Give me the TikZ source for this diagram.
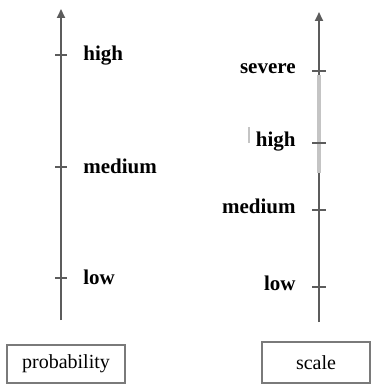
\documentclass[tikz,border=0pt]{standalone}
\usepackage{fontspec}
\setmainfont{Liberation Serif}
\usepackage{tikz}
\usetikzlibrary{arrows.meta}
\definecolor{AxisGray}{HTML}{5C5C5C}
\definecolor{AxisLight}{HTML}{C4C4C4}
\definecolor{BoxGray}{HTML}{7A7A7A}

\begin{document}
\begin{tikzpicture}[x=0.5pt,y=-0.5pt]
    \useasboundingbox (0,0) rectangle (377,385);
    % probability axis
    \coordinate (pbot) at (61,320);
    \coordinate (ptop) at (61,9);
    \draw[AxisGray,line width=1pt,-{Triangle[length=4.5pt,width=4pt]}] (pbot) -- (ptop);
    \foreach \y/\t/\n in {55/high/ph,167/medium/pm,278/low/pl} {
      \draw[AxisGray,line width=0.6pt] (55,\y) -- (67,\y);
      \node[anchor=base west,inner sep=0pt,font=\bfseries\fontsize{10.5}{12}\selectfont] (\n) at (83,\y+6) {\t};
    }
    % scale axis
    \coordinate (sbot) at (319,322);
    \coordinate (stop) at (319,12);
    \coordinate (slo) at (319,173);
    \coordinate (shi) at (319,75);
    \draw[AxisGray,line width=1pt,-{Triangle[length=4.5pt,width=4pt]}] (sbot) -- (stop);
    \draw[AxisLight,line width=2pt] (slo) -- (shi);
    \foreach \y/\t/\n in {71/severe/ss,143/high/sh,210/medium/sm,287/low/sl} {
      \draw[AxisGray,line width=0.6pt] (312,\y) -- (326,\y);
      \node[anchor=base east,inner sep=0pt,font=\bfseries\fontsize{10.5}{12}\selectfont] (\n) at (296,\y+3) {\t};
    }
    \draw[AxisLight,line width=0.6pt] (249,127) -- (249,143);
    % boxes
    \node[draw=BoxGray,line width=0.8pt,minimum width=59pt,minimum height=19pt,font=\fontsize{10}{12}\selectfont] (prob) at (66,364) {probability};
    \node[draw=BoxGray,line width=0.8pt,minimum width=54pt,minimum height=20.5pt,font=\fontsize{10}{12}\selectfont] (scale) at (316,362.5) {scale};
  \end{tikzpicture}
\end{document}
